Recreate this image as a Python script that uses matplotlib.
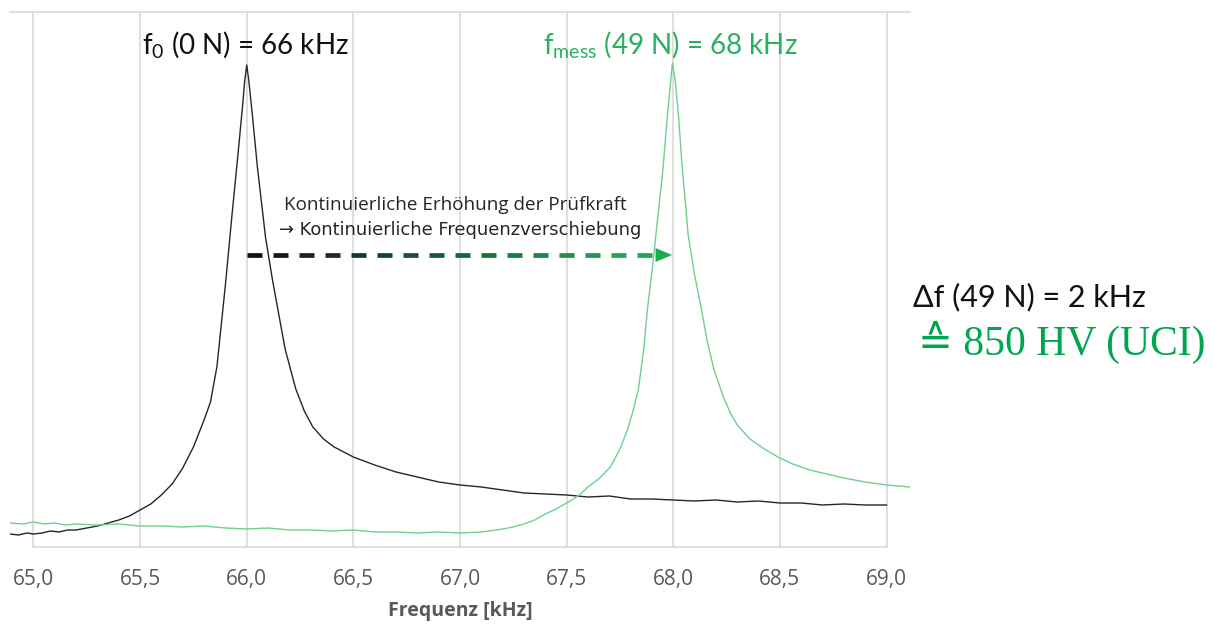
import numpy as np
import matplotlib
matplotlib.use("Agg")
import matplotlib.pyplot as plt
from matplotlib.collections import LineCollection
from matplotlib.colors import to_rgb

plt.rcParams['font.family'] = ['Lato', 'DejaVu Sans']
plt.rcParams['mathtext.default'] = 'regular'

# resonance curve at 0 N (black) -- frequency [kHz], amplitude [a.u.]
black_f = [64.89, 64.93, 64.97, 65.0, 65.04, 65.08, 65.12, 65.16, 65.2, 65.25,
           65.3, 65.35, 65.4, 65.45, 65.5, 65.55, 65.6, 65.65, 65.7, 65.75,
           65.8, 65.83, 65.86, 65.9, 65.93, 65.96, 65.98, 65.99, 66.0, 66.01,
           66.025, 66.05, 66.088, 66.12, 66.144, 66.18, 66.23, 66.27, 66.31, 66.36,
           66.41, 66.5, 66.6, 66.7, 66.8, 66.9, 67.0, 67.1, 67.2, 67.3,
           67.4, 67.5, 67.6, 67.7, 67.8, 67.9, 68.0, 68.1, 68.2, 68.3,
           68.4, 68.5, 68.6, 68.7, 68.8, 68.9, 69.0]
black_a = [13, 12, 14, 13, 14, 16, 15, 17, 17, 19,
           21, 24, 27, 31, 37, 43, 52, 63, 79, 100,
           127, 145, 180, 262, 330, 395, 440, 465, 482, 466,
           435, 380, 310, 268, 240, 198, 158, 136, 120, 108,
           100, 90, 82, 75, 70, 65, 62, 60, 57, 54,
           53, 52, 50, 51, 48, 48, 47, 46, 47, 45,
           46, 44, 44, 42, 43, 42, 42]

# resonance curve at 49 N (green)
green_f = [64.89, 64.95, 65.0, 65.05, 65.1, 65.15, 65.2, 65.3, 65.4, 65.5,
           65.6, 65.7, 65.8, 65.9, 66.0, 66.1, 66.2, 66.3, 66.4, 66.5,
           66.6, 66.7, 66.8, 66.9, 67.0, 67.1, 67.2, 67.25, 67.3, 67.35,
           67.41, 67.45, 67.5, 67.56, 67.6, 67.65, 67.705, 67.75, 67.785, 67.81,
           67.836, 67.86, 67.88, 67.9, 67.916, 67.935, 67.95, 67.97, 67.985, 67.996,
           68.01, 68.025, 68.04, 68.07, 68.1, 68.13, 68.16, 68.19, 68.235, 68.27,
           68.3, 68.36, 68.42, 68.49, 68.56, 68.64, 68.72, 68.8, 68.9, 69.0,
           69.11]
green_a = [24, 23, 25, 23, 24, 22, 23, 22, 23, 21,
           21, 20, 21, 19, 18, 19, 17, 17, 16, 17,
           15, 15, 14, 15, 14, 15, 18, 20, 23, 27,
           34, 38, 44, 52, 60, 68, 80, 98, 117, 135,
           157, 195, 240, 275, 307, 345, 374, 425, 460, 484,
           465, 430, 385, 312, 272, 240, 205, 178, 150, 133,
           122, 108, 99, 90, 83, 77, 73, 69, 65, 62,
           60]

tick_vals = [65.0, 65.5, 66.0, 66.5, 67.0, 67.5, 68.0, 68.5, 69.0]
tick_labels = ['65,0', '65,5', '66,0', '66,5', '67,0', '67,5', '68,0', '68,5', '69,0']

f0, f_mess = 66.0, 68.0
arrow_level = 292

W, H = 1215, 625
fig = plt.figure(figsize=(W / 100, H / 100), dpi=100)
ax = fig.add_axes([10 / W, 1 - 547 / H, 900 / W, 535 / H])
ax.set_xlim(64.89, 69.11)
ax.set_ylim(0, 535)

grid_c = '#d9d9d9'
for t in tick_vals:
    ax.axvline(t, color=grid_c, lw=1.2, zorder=0)
ax.plot([tick_vals[0], tick_vals[-1]], [0, 0], color=grid_c, lw=1.2, zorder=0, clip_on=False)
for s in ['left', 'right', 'bottom']:
    ax.spines[s].set_visible(False)
ax.spines['top'].set_color(grid_c)
ax.spines['top'].set_linewidth(1.2)

ax.plot(black_f, black_a, color='#262626', lw=1.0, zorder=3)
ax.plot(green_f, green_a, color='#6fcf8f', lw=1.0, zorder=3)

ax.set_yticks([])
ax.set_xticks(tick_vals)
ax.set_xticklabels(tick_labels, family=['Open Sans', 'DejaVu Sans'], fontsize=15, color='#595959')
ax.tick_params(axis='x', length=0, pad=16)
ax.set_xlabel('Frequenz [kHz]', family=['Open Sans', 'DejaVu Sans'], fontsize=14,
              fontweight='bold', color='#595959', labelpad=8)

# dashed arrow with colour gradient black -> green
c0 = np.array(to_rgb('#111111'))
c1 = np.array(to_rgb('#1aab50'))
period, dash = 0.122, 0.07
starts = np.arange(f0, f_mess - 0.1, period)
segs, cols = [], []
for s in starts:
    e = min(s + dash, f_mess - 0.09)
    segs.append([(s, arrow_level), (e, arrow_level)])
    k = (s - f0) / (f_mess - f0)
    cols.append(c0 + (c1 - c0) * min(1, k * 1.15))
ax.add_collection(LineCollection(segs, colors=cols, linewidths=3.4, zorder=4, capstyle='butt'))
ax.annotate('', xy=(f_mess - 0.005, arrow_level), xytext=(f_mess - 0.12, arrow_level),
            arrowprops=dict(arrowstyle='-|>,head_length=1.2,head_width=0.5',
                            color='#1aab50', lw=0, shrinkA=0, shrinkB=0), zorder=5)

ax.text(f0 + 0.98, 535 - 193, 'Kontinuierliche Erhöhung der Prüfkraft',
        family=['Open Sans', 'DejaVu Sans'], fontsize=13.6, color='#262626',
        ha='center', va='center')
ax.text(f0 + 1.0, 535 - 218, '→ Kontinuierliche Frequenzverschiebung',
        family=['DejaVu Sans'], fontsize=12.9, color='#262626',
        ha='center', va='center')

# peak labels
fig.text(245 / W, 1 - 44 / H, 'f$_0$ (0 N) = 66 kHz', fontsize=20, color='#111111',
         ha='center', va='center')
fig.text(670 / W, 1 - 44 / H, 'f$_{mess}$ (49 N) = 68 kHz', fontsize=20, color='#2bb061',
         ha='center', va='center')

fig.text(913 / W, 1 - 297 / H, 'Δf (49 N) = 2 kHz', fontsize=22, color='#111111',
         ha='left', va='center')
fig.text(918 / W, 1 - 342 / H, '≙ 850 HV (UCI)',
         family=['Liberation Serif', 'DejaVu Serif', 'DejaVu Sans', 'Noto Sans CJK JP'],
         fontsize=30, color='#00a550', ha='left', va='center')

fig.savefig('out.png', dpi=100)
